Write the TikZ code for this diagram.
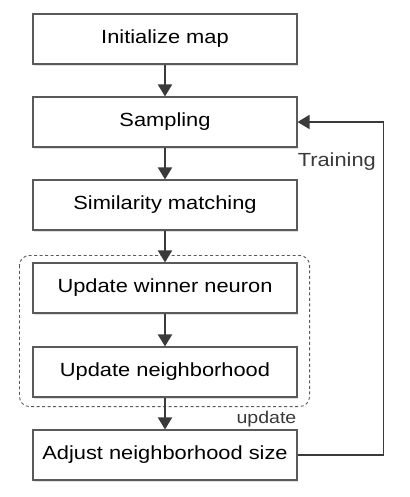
\documentclass[tikz,border=0pt]{standalone}
\usepackage{fontspec}
\setmainfont{Liberation Sans}[FakeStretch=1.15]
\usetikzlibrary{arrows.meta,shadows}
\definecolor{linegray}{HTML}{3A3A3A}
\definecolor{boxgray}{HTML}{5A5A5A}
\begin{document}
\begin{tikzpicture}[x=1pt,y=1pt]
        \useasboundingbox (0,0) rectangle (409,-497);
        \begin{scope}[every node/.style={rectangle,draw=boxgray,line width=1.1pt,fill=white,
                minimum width=264pt,minimum height=50pt,inner sep=0pt,
                drop shadow={shadow xshift=1pt,shadow yshift=-2pt,opacity=0.25},
                font=\fontsize{19}{23}\selectfont}]
            \node (init) at (165,-39)  {Initialize map};
            \node (samp) at (165,-122) {Sampling};
            \node (sim)  at (165,-205) {Similarity matching};

            \node (win)  at (165,-288) {Update winner neuron};
            \node (nbh)  at (165,-372) {Update neighborhood};

            \node (adj)  at (165,-455) {Adjust neighborhood size};
        \end{scope}
        \draw[boxgray,line width=0.9pt,dash pattern=on 3pt off 2.5pt,rounded corners=10pt]
            ([xshift=-13pt,yshift=7pt]win.north west) coordinate (grpnw)
            rectangle ([xshift=12pt,yshift=-9pt]nbh.south east) coordinate (grpse);
        \node[anchor=north east,inner sep=0pt,text=linegray,font=\fontsize{17}{20}\selectfont]
            (updlbl) at ([xshift=-13pt,yshift=-4pt]grpse) {update};
        \node[anchor=north west,inner sep=0pt,text=linegray,font=\fontsize{19}{23}\selectfont]
            (trainlbl) at ([yshift=-31pt]samp.east) {Training};
        \begin{scope}[line width=2pt,draw=linegray,-{Triangle[length=12pt,width=14pt]}]
            \foreach \a/\b in {init/samp,samp/sim,sim/win,win/nbh,nbh/adj} {\draw (\a.south)--(\b.north);}
            \draw[line width=1.8pt] (adj.east) -- ++(86,0) |- (samp.east);
        \end{scope}
    \end{tikzpicture}
\end{document}
